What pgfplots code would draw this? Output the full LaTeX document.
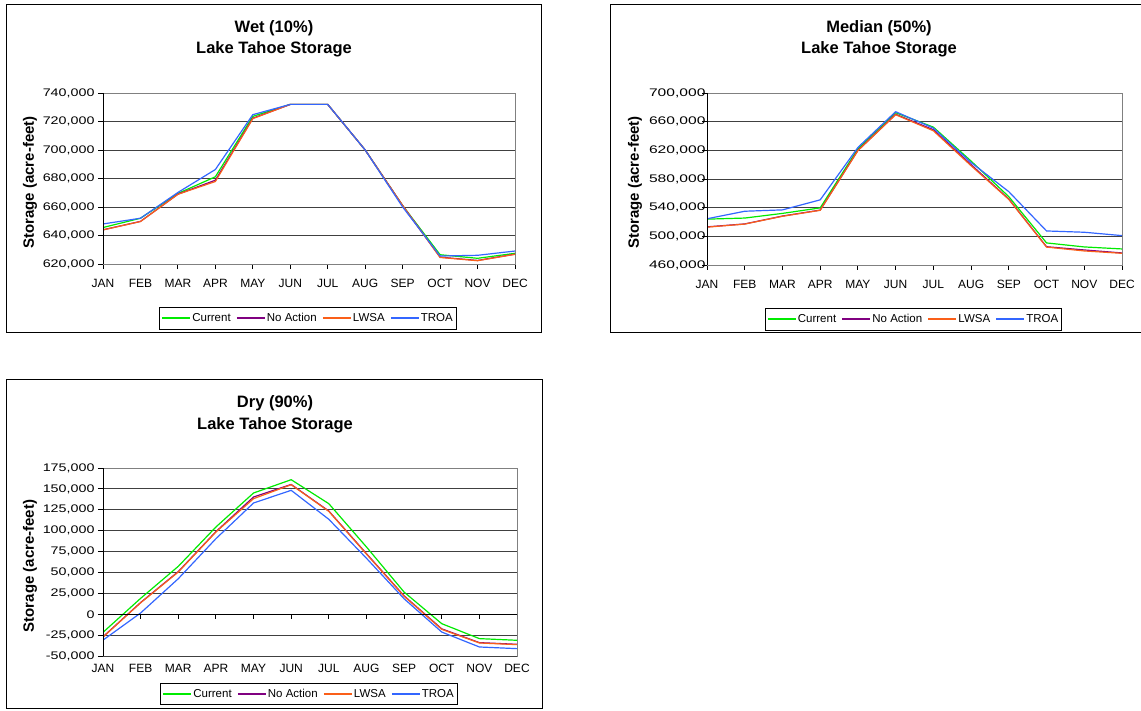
\documentclass[border=0pt]{standalone}
\usepackage{fontspec}
\setmainfont{Liberation Sans}
\usepackage{graphicx}
\usepackage{pgfplots}
\usepackage{pgfplotstable}
\pgfplotsset{compat=1.18}
\newcommand\fs[1]{\fontsize{#1}{#1}\selectfont}
\definecolor{cCur}{RGB}{0,235,0}
\definecolor{cNA}{RGB}{128,0,128}
\definecolor{cLW}{RGB}{250,95,25}
\definecolor{cTR}{RGB}{51,102,255}

\pgfplotstableread{
m cur na lw tr
0 645600 644000 643900 648100
1 652100 649900 649800 652100
2 669500 669000 668900 670200
3 681200 678800 677900 686300
4 723600 722300 722000 724800
5 732000 732000 732000 732000
6 732000 732000 732000 732000
7 700000 700000 700000 700000
8 661000 661000 661000 660000
9 626500 624800 624600 625600
10 624000 622500 622300 626100
11 627500 626900 626800 629100
}\wettab

\pgfplotstableread{
m cur na lw tr
0 524000 513200 512800 524500
1 525500 517300 517100 535000
2 532000 528300 528000 536900
3 539700 536600 536300 550900
4 622200 620000 619600 624000
5 672500 670300 669700 673900
6 652400 648700 647300 651000
7 605000 600000 598500 603000
8 555300 552000 551500 562300
9 490800 485500 485000 507500
10 485200 481000 479600 505700
11 482400 476800 476300 501000
}\medtab

\pgfplotstableread{
m cur na lw tr
0 -21700 -27000 -27400 -31000
1 19000 14000 13700 1500
2 57300 51000 50500 42500
3 104400 98800 98400 90400
4 145100 140300 138300 133100
5 161000 155300 155000 148300
6 132300 123500 123100 113600
7 80500 72500 72000 67000
8 26500 22000 21500 18500
9 -11300 -17500 -18100 -21300
10 -29200 -34000 -34400 -39200
11 -31200 -36000 -36400 -41200
}\drytab

\pgfplotsset{
  /pgf/number format/.cd, fixed, precision=0, 1000 sep={,}, assume math mode=true,
  /pgfplots/.cd,
  tahoe/.style={
    scale only axis, anchor=south west,
    xmin=0, xmax=11, xtick={0,...,11},
    xticklabels={JAN,FEB,MAR,APR,MAY,JUN,JUL,AUG,SEP,OCT,NOV,DEC},
    tick pos=left, tick align=outside, major tick length=5pt,
    tick style={black, line width=0.9pt},
    axis line style={draw=black!50, line width=0.9pt},
    ymajorgrids, grid style={black!75, line width=0.9pt},
    scaled y ticks=false,
    yticklabel style={font=\fs{11}},
    xticklabel style={font=\fs{12}},
    legend columns=4,
    legend cell align=left,
    legend image code/.code={\draw[##1] (0pt,0pt) -- (28pt,0pt);},
    legend style={draw=black, line width=0.8pt, font=\fs{11.5}, inner xsep=2pt, inner ysep=4.5pt,
      nodes={inner sep=1.5pt},
      /tikz/every even column/.append style={column sep=4pt}},
    every axis plot/.append style={line width=1.2pt, mark=none},
  },
}

\begin{document}
\begin{tikzpicture}
\fill[white] (0pt,0pt) rectangle (1141pt,-711pt);
\useasboundingbox (0pt,0pt) rectangle (1141pt,-711pt);
% frames
\draw[black, line width=1pt] (6pt,-5pt) rectangle (541pt,-333pt);
\draw[black, line width=1pt] (1150pt,-5pt) -- (610pt,-5pt) -- (610pt,-333pt) -- (1150pt,-333pt);
\draw[black, line width=1pt] (6pt,-380pt) rectangle (542pt,-708pt);
% titles
\node[anchor=base, font=\fs{16.5}\bfseries, inner sep=0pt] at (274pt,-32.5pt) {Wet (10\%)};
\node[anchor=base, font=\fs{16.5}\bfseries, inner sep=0pt] at (274pt,-54pt) {Lake Tahoe Storage};
\node[anchor=base, font=\fs{16.5}\bfseries, inner sep=0pt] at (879pt,-32.5pt) {Median (50\%)};
\node[anchor=base, font=\fs{16.5}\bfseries, inner sep=0pt] at (879pt,-54pt) {Lake Tahoe Storage};
\node[anchor=base, font=\fs{16.5}\bfseries, inner sep=0pt] at (275pt,-407.5pt) {Dry (90\%)};
\node[anchor=base, font=\fs{16.5}\bfseries, inner sep=0pt] at (275pt,-429pt) {Lake Tahoe Storage};
% y labels
\node[rotate=90, font=\fs{15}\bfseries, inner sep=0pt] at (30pt,-182.5pt) {Storage (acre-feet)};
\node[rotate=90, font=\fs{15}\bfseries, inner sep=0pt] at (635pt,-182.5pt) {Storage (acre-feet)};
\node[rotate=90, font=\fs{15}\bfseries, inner sep=0pt] at (30pt,-566pt) {Storage (acre-feet)};

% ---------- Wet ----------
\begin{axis}[tahoe, at={(103pt,-264pt)}, width=412pt, height=171pt,
  ymin=620000, ymax=740000, ytick={620000,640000,...,740000},
  yticklabel={\scalebox{1.3}[1]{\pgfmathprintnumber{\tick}}},
  xticklabel style={yshift=-7pt},
  legend style={at={(0.4976,-0.316)}, anchor=center}]
\addplot[cCur] table[x=m,y=cur]{\wettab};
\addplot[cNA] table[x=m,y=na]{\wettab};
\addplot[cLW] table[x=m,y=lw]{\wettab};
\addplot[cTR] table[x=m,y=tr]{\wettab};
\legend{Current,No Action,LWSA,TROA}
\draw[black!50, line width=0.9pt] (rel axis cs:0,1) -- (rel axis cs:1,1) -- (rel axis cs:1,0);
\draw[black, line width=0.9pt] (rel axis cs:0,1) -- (rel axis cs:0,0) -- (rel axis cs:1,0);
\end{axis}

% ---------- Median ----------
\begin{axis}[tahoe, at={(707pt,-265pt)}, width=415pt, height=172pt,
  ymin=460000, ymax=700000, ytick={460000,500000,...,700000},
  yticklabel={\scalebox{1.42}[1]{\pgfmathprintnumber{\tick}}},
  yticklabel style={xshift=7pt},
  xticklabel style={yshift=-7pt},
  legend style={at={(0.4976,-0.314)}, anchor=center}]
\addplot[cCur] table[x=m,y=cur]{\medtab};
\addplot[cNA] table[x=m,y=na]{\medtab};
\addplot[cLW] table[x=m,y=lw]{\medtab};
\addplot[cTR] table[x=m,y=tr]{\medtab};
\legend{Current,No Action,LWSA,TROA}
\draw[black!50, line width=0.9pt] (rel axis cs:0,1) -- (rel axis cs:1,1) -- (rel axis cs:1,0);
\draw[black, line width=0.9pt] (rel axis cs:0,1) -- (rel axis cs:0,0) -- (rel axis cs:1,0);
\end{axis}

% ---------- Dry ----------
\begin{axis}[tahoe, at={(103pt,-656pt)}, width=414pt, height=188pt,
  ymin=-50000, ymax=175000, ytick={-50000,-25000,...,175000},
  yticklabel={\scalebox{1.3}[1]{\pgfmathprintnumber{\tick}}},
  xtick style={draw=none},
  legend style={at={(0.4976,-0.202)}, anchor=center}]
\addplot[cCur] table[x=m,y=cur]{\drytab};
\addplot[cNA] table[x=m,y=na]{\drytab};
\addplot[cLW] table[x=m,y=lw]{\drytab};
\addplot[cTR] table[x=m,y=tr]{\drytab};
\legend{Current,No Action,LWSA,TROA}
\draw[black!50, line width=0.9pt] (rel axis cs:0,1) -- (rel axis cs:1,1) -- (rel axis cs:1,0);
\draw[black!75, line width=0.9pt] (rel axis cs:0,0) -- (rel axis cs:1,0);
\draw[black, line width=0.9pt] (axis cs:0,0) -- (axis cs:11,0);
\pgfplotsinvokeforeach{1,...,11}{\draw[black, line width=0.9pt] (axis cs:#1,0) -- ++(0pt,-5pt);}
\draw[black, line width=0.9pt] (rel axis cs:0,1) -- (rel axis cs:0,0);
\end{axis}
\end{tikzpicture}
\end{document}
